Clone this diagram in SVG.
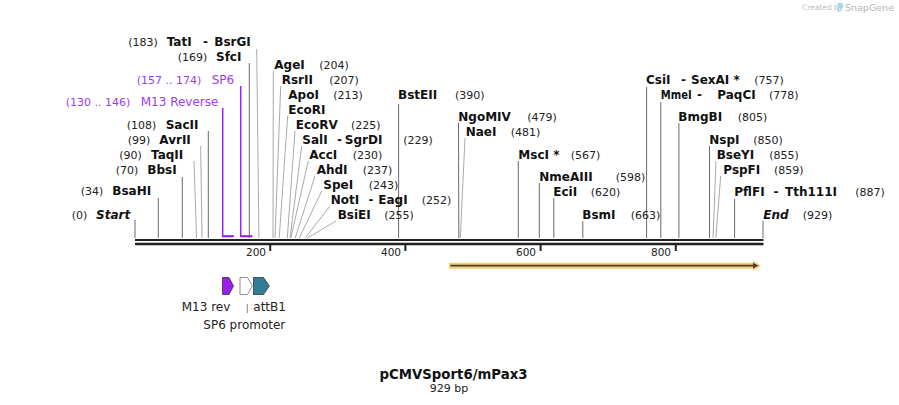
<svg xmlns="http://www.w3.org/2000/svg" width="899" height="405" viewBox="0 0 899 405">
<style>
.n{font-family:"DejaVu Sans",Verdana,sans-serif;font-size:12px;font-weight:bold;fill:#111}
.p{font-family:"DejaVu Sans",Verdana,sans-serif;font-size:11px;fill:#222}
.f{font-family:"DejaVu Sans",Verdana,sans-serif;font-size:12px;fill:#222}
.t{font-family:"DejaVu Sans",Verdana,sans-serif;font-size:10.5px;fill:#222;text-anchor:end}
text.pu{fill:#9b3cf0}
.v{stroke:#6a6a6a;stroke-width:1;fill:none}
.s{stroke:#aaaaaa;stroke-width:1;fill:none}
.br{stroke:#9b1fef;fill:none}
</style>
<rect width="899" height="405" fill="#ffffff"/>
<g id="credit">
<text x="802" y="10" font-family="DejaVu Sans,sans-serif" font-size="7.5" fill="#bdbdbd">Created by</text>
<path d="M837.5 3 h3.5 a2.5 2.5 0 0 1 0 5 h-1.5 v4 h-2 z" fill="#a8d8f0"/>
<text x="845" y="11" font-family="DejaVu Sans,sans-serif" font-size="9.5" fill="#b5b5b5">SnapGene</text>
</g>
<g id="backbone">
<line x1="135" y1="240" x2="763.5" y2="240" stroke="#222" stroke-width="2.2"/>
<line x1="135" y1="244" x2="763.5" y2="244" stroke="#222" stroke-width="2.5"/>
<g stroke="#222" stroke-width="2">
<line x1="270.2" y1="245" x2="270.2" y2="251"/>
<line x1="405.4" y1="245" x2="405.4" y2="251"/>
<line x1="540.6" y1="245" x2="540.6" y2="251"/>
<line x1="675.8" y1="245" x2="675.8" y2="251"/>
</g>
<text class="t" x="266" y="255.5">200</text>
<text class="t" x="401" y="255.5">400</text>
<text class="t" x="536" y="255.5">600</text>
<text class="t" x="671" y="255.5">800</text>
</g>
<g id="connectors">
<line class="v" x1="135" y1="220" x2="135" y2="238"/>
<line class="v" x1="158.3" y1="198" x2="158.3" y2="238"/>
<line class="v" x1="182.3" y1="177" x2="182.3" y2="238"/>
<line class="s" x1="194" y1="161" x2="196.5" y2="238"/>
<line class="s" x1="200.7" y1="146" x2="202" y2="238"/>
<line class="v" x1="208.3" y1="131" x2="208.3" y2="238"/>
<polyline class="br" stroke-width="1.5" points="222.7,108 222.7,236.3 233.7,236.3"/>
<line class="br" stroke-width="2" x1="222" y1="236.3" x2="233.7" y2="236.3"/>
<polyline class="br" stroke-width="1.5" points="240.7,86 240.7,236.3 252.3,236.3"/>
<line class="br" stroke-width="2" x1="240" y1="236.3" x2="252.3" y2="236.3"/>
<line class="v" x1="249.3" y1="63" x2="249.3" y2="238"/>
<line class="s" x1="256.7" y1="49" x2="258.9" y2="238"/>
<line class="s" x1="273.3" y1="71" x2="273" y2="238"/>
<line class="s" x1="280.7" y1="86" x2="275" y2="238"/>
<line class="s" x1="287.7" y1="116" x2="279.2" y2="238"/>
<line class="s" x1="295" y1="131" x2="287.3" y2="238"/>
<line class="s" x1="301.7" y1="146" x2="290" y2="238"/>
<line class="s" x1="308.3" y1="161" x2="290.8" y2="238"/>
<line class="s" x1="315" y1="176" x2="295.2" y2="238"/>
<line class="s" x1="321.7" y1="191" x2="299.3" y2="238"/>
<line class="s" x1="330" y1="206" x2="305.2" y2="238"/>
<line class="s" x1="336" y1="221" x2="307.4" y2="238"/>
<line class="v" x1="398.6" y1="104" x2="398.6" y2="238"/>
<line class="v" x1="458.5" y1="123" x2="458.8" y2="238"/>
<line class="s" x1="465" y1="138" x2="460.3" y2="238"/>
<line class="v" x1="518.3" y1="161" x2="518.3" y2="238"/>
<line class="v" x1="539.3" y1="183" x2="539.3" y2="238"/>
<line class="v" x1="553.8" y1="198" x2="553.8" y2="238"/>
<line class="v" x1="582.8" y1="221" x2="582.8" y2="238"/>
<line class="v" x1="646.6" y1="87" x2="646.6" y2="238"/>
<line class="v" x1="660.8" y1="102" x2="660.8" y2="238"/>
<line class="v" x1="678.9" y1="123" x2="678.9" y2="238"/>
<line class="v" x1="709.5" y1="146" x2="709.5" y2="238"/>
<line class="s" x1="716" y1="161" x2="713" y2="238"/>
<line class="s" x1="720.7" y1="176" x2="715.8" y2="238"/>
<line class="v" x1="734.6" y1="199" x2="734.6" y2="238"/>
<line class="v" x1="763" y1="221" x2="763" y2="238"/>
<line stroke="#888" stroke-width="1" x1="247.3" y1="304" x2="247.3" y2="313"/>
</g>
<g id="site-start"><text class="p" x="71.7" y="219">(0)</text><text class="n" x="96" y="219" font-style="italic">Start</text></g>
<g id="site-BsaHI"><text class="p" x="80.7" y="195">(34)</text><text class="n" x="112.3" y="195">BsaHI</text></g>
<g id="site-BbsI"><text class="p" x="115.7" y="174">(70)</text><text class="n" x="147.3" y="174">BbsI</text></g>
<g id="site-TaqII"><text class="p" x="119.3" y="159">(90)</text><text class="n" x="151" y="159">TaqII</text></g>
<g id="site-AvrII"><text class="p" x="127.7" y="144">(99)</text><text class="n" x="159.3" y="144">AvrII</text></g>
<g id="site-SacII"><text class="p" x="126.7" y="129">(108)</text><text class="n" x="165.7" y="129">SacII</text></g>
<g id="primer-M13Reverse"><text class="p pu" x="65.7" y="106">(130 .. 146)</text><text class="f pu" x="140.7" y="106">M13 Reverse</text></g>
<g id="primer-SP6"><text class="p pu" x="136.7" y="84">(157 .. 174)</text><text class="f pu" x="211.7" y="84">SP6</text></g>
<g id="site-SfcI"><text class="p" x="177.7" y="61">(169)</text><text class="n" x="216" y="61">SfcI</text></g>
<g id="site-TatI"><text class="p" x="128.3" y="46">(183)</text><text class="n" x="166.7" y="46">TatI</text><text class="n" x="203" y="46">-</text><text class="n" x="214.3" y="46">BsrGI</text></g>
<g id="site-AgeI"><text class="n" x="274.3" y="69">AgeI</text><text class="p" x="319.3" y="69">(204)</text></g>
<g id="site-RsrII"><text class="n" x="281.7" y="84">RsrII</text><text class="p" x="329.3" y="84">(207)</text></g>
<g id="site-ApoI"><text class="n" x="288.3" y="99">ApoI</text><text class="p" x="333.3" y="99">(213)</text></g>
<g id="site-EcoRI"><text class="n" x="288.3" y="114">EcoRI</text></g>
<g id="site-EcoRV"><text class="n" x="295.7" y="129">EcoRV</text><text class="p" x="351" y="129">(225)</text></g>
<g id="site-SalI"><text class="n" x="302.3" y="144">SalI</text><text class="n" x="337" y="144">-</text><text class="n" x="344.8" y="144">SgrDI</text><text class="p" x="403.3" y="144">(229)</text></g>
<g id="site-AccI"><text class="n" x="309.3" y="159">AccI</text><text class="p" x="352.7" y="159">(230)</text></g>
<g id="site-AhdI"><text class="n" x="316.7" y="174">AhdI</text><text class="p" x="362.7" y="174">(237)</text></g>
<g id="site-SpeI"><text class="n" x="323.3" y="189">SpeI</text><text class="p" x="368.7" y="189">(243)</text></g>
<g id="site-NotI"><text class="n" x="330.7" y="204">NotI</text><text class="n" x="368.5" y="204">-</text><text class="n" x="378.3" y="204">EagI</text><text class="p" x="421.7" y="204">(252)</text></g>
<g id="site-BsiEI"><text class="n" x="337.7" y="219">BsiEI</text><text class="p" x="384.3" y="219">(255)</text></g>
<g id="site-BstEII"><text class="n" x="398" y="99">BstEII</text><text class="p" x="455" y="99">(390)</text></g>
<g id="site-NgoMIV"><text class="n" x="458.3" y="121">NgoMIV</text><text class="p" x="527.3" y="121">(479)</text></g>
<g id="site-NaeI"><text class="n" x="465.7" y="136">NaeI</text><text class="p" x="510.7" y="136">(481)</text></g>
<g id="site-MscI"><text class="n" x="518.3" y="159">MscI *</text><text class="p" x="570.7" y="159">(567)</text></g>
<g id="site-NmeAIII"><text class="n" x="539.3" y="181">NmeAIII</text><text class="p" x="615.7" y="181">(598)</text></g>
<g id="site-EciI"><text class="n" x="553.3" y="196">EciI</text><text class="p" x="590.7" y="196">(620)</text></g>
<g id="site-BsmI"><text class="n" x="582.3" y="219">BsmI</text><text class="p" x="630.7" y="219">(663)</text></g>
<g id="site-CsiI"><text class="n" x="646" y="84">CsiI</text><text class="n" x="681" y="84">-</text><text class="n" x="691" y="84">SexAI *</text><text class="p" x="754.3" y="84">(757)</text></g>
<g id="site-MmeI"><text class="n" x="660.7" y="99" textLength="31" lengthAdjust="spacingAndGlyphs">MmeI</text><text class="n" x="697" y="99">-</text><text class="n" x="717.3" y="99">PaqCI</text><text class="p" x="769" y="99">(778)</text></g>
<g id="site-BmgBI"><text class="n" x="678.3" y="121">BmgBI</text><text class="p" x="737.7" y="121">(805)</text></g>
<g id="site-NspI"><text class="n" x="709.3" y="144">NspI</text><text class="p" x="753.3" y="144">(850)</text></g>
<g id="site-BseYI"><text class="n" x="716.7" y="159">BseYI</text><text class="p" x="769.3" y="159">(855)</text></g>
<g id="site-PspFI"><text class="n" x="723.3" y="174">PspFI</text><text class="p" x="774" y="174">(859)</text></g>
<g id="site-PflFI"><text class="n" x="734.3" y="196">PflFI</text><text class="n" x="773.5" y="196">-</text><text class="n" x="785" y="196">Tth111I</text><text class="p" x="855.3" y="196">(887)</text></g>
<g id="site-end"><text class="n" x="763.3" y="219" font-style="italic">End</text><text class="p" x="802.7" y="219">(929)</text></g>
<g id="feature-orf">
<path d="M449 262.7 H753 L753 260.5 L761 265.7 L753 270.9 L753 268.7 H449 Z" fill="#f7c66b" fill-opacity="0.9"/>
<path d="M450.5 264.8 H753 V262.8 L758.5 265.7 L753 268.6 V266.6 H450.5 Z" fill="#4a3f33"/>
</g>
<g id="feature-M13rev">
<path d="M222.5 277.5 H229 L233.5 286 L229 294.5 H222.5 Z" fill="#9b1fe8" stroke="#333" stroke-width="0.8"/>
<text class="f" x="181.7" y="311">M13 rev</text>
</g>
<g id="feature-SP6promoter">
<path d="M240 277.5 H247.5 L252.3 286 L247.5 294.5 H240 Z" fill="#ffffff" stroke="#777" stroke-width="0.8"/>
<text class="f" x="203.3" y="328.5">SP6 promoter</text>
</g>
<g id="feature-attB1">
<path d="M253.5 277.5 H263.5 L269.3 286 L263.5 294.5 H253.5 Z" fill="#2f7d96" stroke="#333" stroke-width="0.8"/>
<text class="f" x="253.3" y="311">attB1</text>
</g>
<g id="title">
<text x="453.5" y="379" text-anchor="middle" font-family="DejaVu Sans,sans-serif" font-size="13.3" font-weight="bold" fill="#111">pCMVSport6/mPax3</text>
<text x="449" y="392" text-anchor="middle" font-family="DejaVu Sans,sans-serif" font-size="11" fill="#222">929 bp</text>
</g>
</svg>
